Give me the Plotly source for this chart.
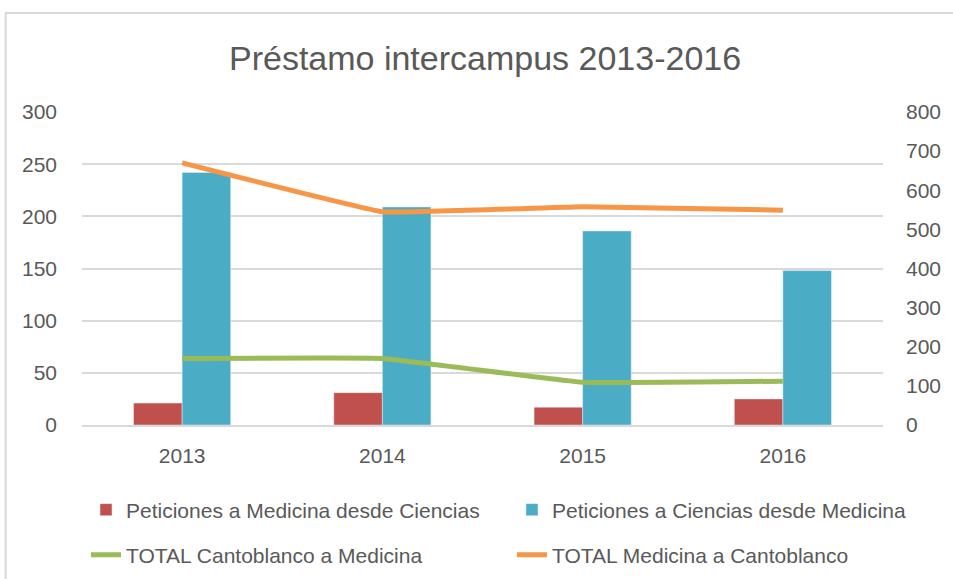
import plotly.graph_objects as go

years = ["2013", "2014", "2015", "2016"]
pet_med_desde_cien = [21, 31, 17, 25]
pet_cien_desde_med = [242, 209, 186, 148]
total_canto_med = [170, 170, 109, 112]
total_med_canto = [670, 545, 558, 549]

FONT = "Liberation Sans, Arial, sans-serif"
TXT = "#595959"
GRID = "#D9D9D9"

W, H = 953, 579
L, R, T, B = 82, 63, 112, 154
pw, ph = W - L - R, H - T - B

def px(x):
    return (x - L) / pw

def py(y):
    return (H - B - y) / ph

fig = go.Figure()
fig.add_bar(x=years, y=pet_med_desde_cien, name="Peticiones a Medicina desde Ciencias",
            marker_color="#C0504D", legend="legend")
fig.add_bar(x=years, y=pet_cien_desde_med, name="Peticiones a Ciencias desde Medicina",
            marker_color="#4BACC6", legend="legend2")
fig.add_scatter(x=years, y=total_canto_med, name="TOTAL Cantoblanco a Medicina",
                mode="lines", line=dict(color="#9BBB59", width=5, shape="spline", smoothing=0.2),
                yaxis="y2", legend="legend3")
fig.add_scatter(x=years, y=total_med_canto, name="TOTAL Medicina a Cantoblanco",
                mode="lines", line=dict(color="#F79646", width=5, shape="spline", smoothing=0.2),
                yaxis="y2", legend="legend4")

leg_common = dict(orientation="h", xref="container", yref="container",
                  xanchor="left", yanchor="middle", itemwidth=30,
                  font=dict(size=21, color=TXT), bgcolor="rgba(0,0,0,0)")

fig.update_layout(
    width=W, height=H,
    margin=dict(l=L, r=R, t=T, b=B),
    paper_bgcolor="white", plot_bgcolor="white",
    font=dict(family=FONT, color=TXT, size=21),
    title=dict(text="Préstamo intercampus 2013-2016", x=0.509, xanchor="center",
               y=1 - 58 / H, yanchor="middle", font=dict(size=34, color=TXT, family=FONT)),
    barmode="group", bargap=0.515, bargroupgap=0,
    xaxis=dict(showgrid=False, showline=True, linecolor=GRID, linewidth=2,
               ticks="", tickfont=dict(size=21, color=TXT), ticklabelstandoff=11),
    yaxis=dict(range=[0, 300], dtick=50, showgrid=True, gridcolor=GRID, gridwidth=2,
               zeroline=False, showline=False, ticks="", tickfont=dict(size=21, color=TXT),
               ticklabelstandoff=24),
    yaxis2=dict(range=[0, 800], dtick=100, overlaying="y", side="right", showgrid=False,
                zeroline=False, showline=False, ticks="", tickfont=dict(size=21, color=TXT),
                ticklabelstandoff=22),
    legend=dict(x=86 / W, y=1 - 510 / H, **leg_common),
    legend2=dict(x=512 / W, y=1 - 510 / H, **leg_common),
    legend3=dict(x=86 / W, y=1 - 555 / H, **leg_common),
    legend4=dict(x=512 / W, y=1 - 555 / H, **leg_common),
    shapes=[dict(type="rect", xref="paper", yref="paper",
                 x0=px(5), x1=px(975), y0=py(600), y1=py(13),
                 line=dict(color="#D9D9D9", width=2), fillcolor="rgba(0,0,0,0)", layer="below")],
    showlegend=True,
)

fig.write_html("out.html", config={"displayModeBar": False},
               post_script="document.body.style.margin='0';document.body.style.overflow='hidden';")
